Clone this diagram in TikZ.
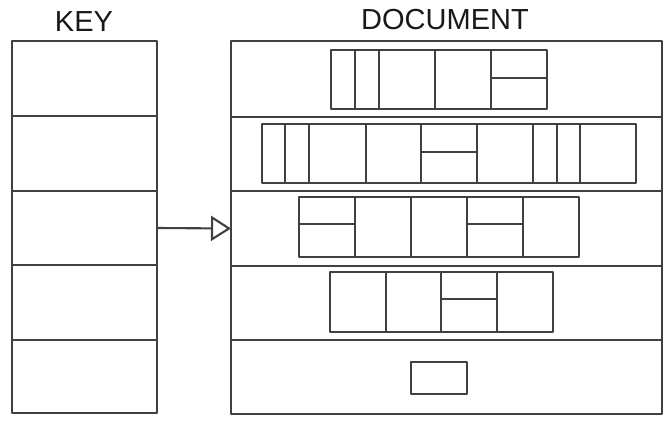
\documentclass[tikz,border=0pt]{standalone}
\usepackage{fontspec}
\setmainfont{Liberation Sans}
\usetikzlibrary{arrows.meta}
\definecolor{linegray}{HTML}{404040}
\begin{document}
\begin{tikzpicture}[x=1pt,y=-1pt]
\tikzset{
  ln/.style={draw=linegray, line width=2.1pt, line join=round},
  rowbox/.style={ln, rectangle, inner sep=0pt, outer sep=0pt, anchor=north west},
  title/.style={font=\fontsize{29}{34}\selectfont, text=black!90, inner sep=0pt},
  cell/.style={ln}
}
\useasboundingbox (0,0) rectangle (664,423);
% titles
\node[title] (keylbl) at (84,22) {KEY};
\node[title] (doclbl) at (445,20) {DOCUMENT};
% key rows
\node[rowbox, minimum width=145pt, minimum height=75pt] (key1) at (12,41) {};
\node[rowbox, minimum width=145pt, minimum height=75pt] (key2) at (12,116) {};
\node[rowbox, minimum width=145pt, minimum height=74pt] (key3) at (12,191) {};
\node[rowbox, minimum width=145pt, minimum height=75pt] (key4) at (12,265) {};
\node[rowbox, minimum width=145pt, minimum height=73pt] (key5) at (12,340) {};
% document rows
\node[rowbox, minimum width=431pt, minimum height=76pt] (doc1) at (231,41) {};
\node[rowbox, minimum width=431pt, minimum height=74pt] (doc2) at (231,117) {};
\node[rowbox, minimum width=431pt, minimum height=75pt] (doc3) at (231,191) {};
\node[rowbox, minimum width=431pt, minimum height=74pt] (doc4) at (231,266) {};
\node[rowbox, minimum width=431pt, minimum height=74pt] (doc5) at (231,340) {};
% arrow
\draw[ln, -{Triangle[open, length=20pt, width=25pt, line width=2.1pt]}] (key3.east) -- (doc3.west);
% row 1 cells
\draw[cell] (331,50) rectangle (355,109);
\draw[cell] (355,50) rectangle (379,109);
\draw[cell] (379,50) rectangle (435,109);
\draw[cell] (435,50) rectangle (491,109);
\draw[cell] (491,50) rectangle (547,78);
\draw[cell] (491,78) rectangle (547,109);
% row 2 cells
\draw[cell] (262,124) rectangle (285,183);
\draw[cell] (285,124) rectangle (309,183);
\draw[cell] (309,124) rectangle (366,183);
\draw[cell] (366,124) rectangle (421,183);
\draw[cell] (421,124) rectangle (477,152);
\draw[cell] (421,152) rectangle (477,183);
\draw[cell] (477,124) rectangle (533,183);
\draw[cell] (533,124) rectangle (557,183);
\draw[cell] (557,124) rectangle (580,183);
\draw[cell] (580,124) rectangle (636,183);
% row 3 cells
\draw[cell] (299,197) rectangle (355,224);
\draw[cell] (299,224) rectangle (355,257);
\draw[cell] (355,197) rectangle (411,257);
\draw[cell] (411,197) rectangle (467,257);
\draw[cell] (467,197) rectangle (523,224);
\draw[cell] (467,224) rectangle (523,257);
\draw[cell] (523,197) rectangle (579,257);
% row 4 cells
\draw[cell] (330,272) rectangle (386,332);
\draw[cell] (386,272) rectangle (441,332);
\draw[cell] (441,272) rectangle (497,299);
\draw[cell] (441,299) rectangle (497,332);
\draw[cell] (497,272) rectangle (553,332);
% row 5 cell
\draw[cell] (411,362) rectangle (467,394);
\end{tikzpicture}
\end{document}
